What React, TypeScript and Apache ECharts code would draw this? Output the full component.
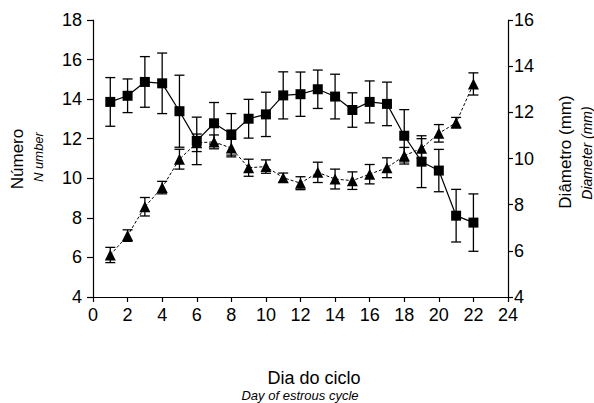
import React, { useEffect, useRef } from "react";
import * as echarts from "echarts";

const days = [1, 2, 3, 4, 5, 6, 7, 8, 9, 10, 11, 12, 13, 14, 15, 16, 17, 18, 19, 20, 21, 22];
const numberMean = [13.86, 14.17, 14.87, 14.8, 13.39, 11.89, 12.78, 12.22, 13.01, 13.23, 14.19, 14.25, 14.5, 14.13, 13.45, 13.86, 13.76, 12.15, 10.84, 10.39, 8.11, 7.76];
const numberErr = [1.23, 0.85, 1.28, 1.53, 1.82, 1.2, 1.05, 1.05, 0.98, 1.12, 1.19, 1.12, 0.97, 1.13, 0.87, 1.06, 1.1, 1.32, 1.31, 1.07, 1.33, 1.45];
const diamMean = [5.82, 6.66, 7.91, 8.74, 9.97, 10.68, 10.72, 10.45, 9.6, 9.65, 9.17, 8.93, 9.4, 9.11, 9.04, 9.32, 9.6, 10.12, 10.44, 11.09, 11.55, 13.23];
const diamErr = [0.33, 0.25, 0.4, 0.27, 0.43, 0.38, 0.3, 0.38, 0.37, 0.29, 0.2, 0.28, 0.44, 0.43, 0.38, 0.42, 0.43, 0.36, 0.42, 0.38, 0.23, 0.48];

const FONT = "'Liberation Sans', Arial, sans-serif";

function errorRender(params: any, api: any) {
  const x = api.value(0);
  const lo = api.coord([x, api.value(1)]);
  const hi = api.coord([x, api.value(2)]);
  const w = 5;
  const style = { stroke: "#000", lineWidth: 1.3 };
  return {
    type: "group",
    children: [
      { type: "line", shape: { x1: lo[0], y1: lo[1], x2: hi[0], y2: hi[1] }, style },
      { type: "line", shape: { x1: lo[0] - w, y1: lo[1], x2: lo[0] + w, y2: lo[1] }, style },
      { type: "line", shape: { x1: hi[0] - w, y1: hi[1], x2: hi[0] + w, y2: hi[1] }, style },
    ],
  };
}

export default function App() {
  const ref = useRef<HTMLDivElement>(null);
  useEffect(() => {
    if (!ref.current) return;
    const chart = echarts.init(ref.current, undefined, { renderer: "svg" });
    const numData = days.map((d, i) => [d, numberMean[i]]);
    const diaData = days.map((d, i) => [d, diamMean[i]]);
    const numErrData = days.map((d, i) => [d, numberMean[i] - numberErr[i], numberMean[i] + numberErr[i]]);
    const diaErrData = days.map((d, i) => [d, diamMean[i] - diamErr[i], diamMean[i] + diamErr[i]]);
    const axisLine = { show: true, lineStyle: { color: "#000", width: 1.2 } };
    const axisTick = { show: true, length: 5, lineStyle: { color: "#000", width: 1.2 } };
    const labelBase = { color: "#000", fontSize: 18, fontFamily: FONT };
    chart.setOption({
      animation: false,
      backgroundColor: "#fff",
      textStyle: { fontFamily: FONT },
      grid: { left: 93, right: 86, top: 20, bottom: 106 },
      xAxis: {
        type: "value",
        min: 0,
        max: 24,
        interval: 2,
        axisLine,
        axisTick,
        splitLine: { show: false },
        axisLabel: { ...labelBase, margin: 9 },
      },
      yAxis: [
        {
          type: "value",
          min: 4,
          max: 18,
          interval: 2,
          position: "left",
          axisLine,
          axisTick: { ...axisTick, length: 6 },
          splitLine: { show: false },
          axisLabel: { ...labelBase, margin: 11 },
        },
        {
          type: "value",
          min: 4,
          max: 16,
          interval: 2,
          position: "right",
          axisLine,
          axisTick,
          splitLine: { show: false },
          axisLabel: { ...labelBase, margin: 6 },
        },
      ],
      series: [
        {
          type: "custom",
          yAxisIndex: 1,
          renderItem: errorRender,
          data: diaErrData,
          z: 1,
        },
        {
          type: "line",
          yAxisIndex: 1,
          data: diaData,
          symbol: "triangle",
          symbolSize: 11,
          itemStyle: { color: "#000" },
          lineStyle: { color: "#000", width: 1, type: [3, 2] },
          z: 2,
        },
        {
          type: "custom",
          yAxisIndex: 0,
          renderItem: errorRender,
          data: numErrData,
          z: 3,
        },
        {
          type: "line",
          yAxisIndex: 0,
          data: numData,
          symbol: "rect",
          symbolSize: 10,
          itemStyle: { color: "#000" },
          lineStyle: { color: "#000", width: 1.2 },
          z: 4,
        },
      ],
      graphic: [
        {
          type: "text",
          x: 17,
          y: 159,
          rotation: Math.PI / 2,
          style: { text: "Número", fontSize: 17, fontFamily: FONT, fill: "#000", align: "center", verticalAlign: "middle" },
        },
        {
          type: "text",
          x: 38,
          y: 157,
          rotation: Math.PI / 2,
          style: { text: "N umber", fontSize: 13, fontStyle: "italic", fontFamily: FONT, fill: "#000", align: "center", verticalAlign: "middle" },
        },
        {
          type: "text",
          x: 565,
          y: 152,
          rotation: Math.PI / 2,
          style: { text: "Diâmetro (mm)", fontSize: 17, fontFamily: FONT, fill: "#000", align: "center", verticalAlign: "middle" },
        },
        {
          type: "text",
          x: 587,
          y: 153,
          rotation: Math.PI / 2,
          style: { text: "Diameter (mm)", fontSize: 14, fontStyle: "italic", fontFamily: FONT, fill: "#000", align: "center", verticalAlign: "middle" },
        },
        {
          type: "text",
          x: 314,
          y: 378,
          style: { text: "Dia do ciclo", fontSize: 18, fontFamily: FONT, fill: "#000", align: "center", verticalAlign: "middle" },
        },
        {
          type: "text",
          x: 300,
          y: 395,
          style: { text: "Day of estrous cycle", fontSize: 13, fontStyle: "italic", fontFamily: FONT, fill: "#000", align: "center", verticalAlign: "middle" },
        },
      ],
    });
    return () => chart.dispose();
  }, []);
  return <div ref={ref} style={{ width: 594, height: 403, position: "absolute", left: 0, top: 0 }} />;
}
